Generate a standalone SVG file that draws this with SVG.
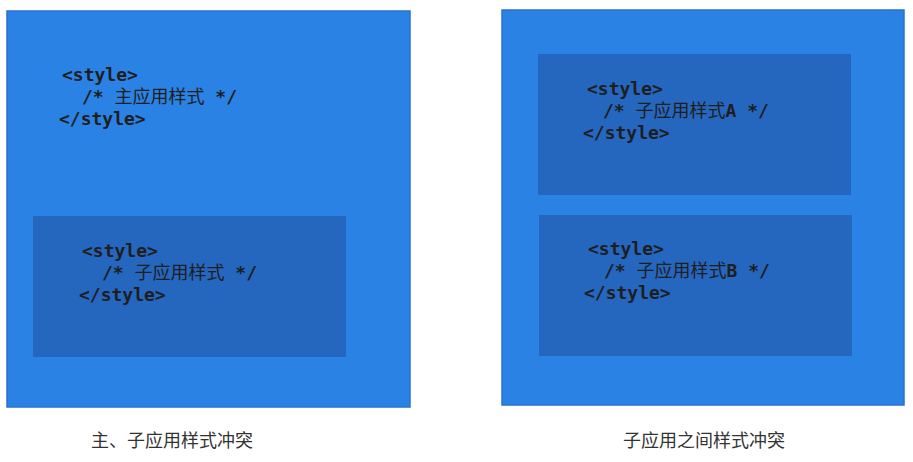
<svg xmlns="http://www.w3.org/2000/svg" width="913" height="462" viewBox="0 0 913 462">
  <style>
    .outer { fill: #2a82e4; stroke: #2872cf; stroke-width: 1.5; }
    .inner { fill: #2566bf; stroke: none; }
    .code { font-family: "DejaVu Sans Mono", "Noto Sans CJK SC", monospace; font-size: 18px; font-weight: bold; fill: #1e1e1e; }
    .cjk { font-family: "Noto Sans CJK SC", sans-serif; font-weight: normal; }
    .caption { font-family: "Noto Sans CJK SC", "Noto Sans", sans-serif; font-size: 18px; fill: #333333; text-anchor: middle; }
  </style>
  <rect width="913" height="462" fill="#ffffff"/>

  <g id="main-app">
    <rect class="outer" x="7" y="11" width="403" height="396"/>
    <text class="code" x="62" y="81">&lt;style&gt;</text>
    <text class="code" x="82" y="103">/* <tspan class="cjk">主应用样式</tspan> */</text>
    <text class="code" x="59" y="125">&lt;/style&gt;</text>
  </g>

  <g id="sub-app-in-main">
    <rect class="inner" x="33" y="216" width="313" height="141"/>
    <text class="code" x="82" y="257">&lt;style&gt;</text>
    <text class="code" x="102" y="279">/* <tspan class="cjk">子应用样式</tspan> */</text>
    <text class="code" x="79" y="301">&lt;/style&gt;</text>
  </g>

  <g id="caption-left">
    <text class="caption" x="172" y="447">主、子应用样式冲突</text>
  </g>

  <g id="container-right">
    <rect class="outer" x="502" y="10" width="402" height="395"/>
  </g>

  <g id="sub-app-a">
    <rect class="inner" x="538" y="54" width="313" height="141"/>
    <text class="code" x="587" y="95">&lt;style&gt;</text>
    <text class="code" x="603" y="117">/* <tspan class="cjk">子应用样式</tspan>A */</text>
    <text class="code" x="583" y="139">&lt;/style&gt;</text>
  </g>

  <g id="sub-app-b">
    <rect class="inner" x="539" y="215" width="313" height="141"/>
    <text class="code" x="588" y="255">&lt;style&gt;</text>
    <text class="code" x="604" y="277">/* <tspan class="cjk">子应用样式</tspan>B */</text>
    <text class="code" x="584" y="299">&lt;/style&gt;</text>
  </g>

  <g id="caption-right">
    <text class="caption" x="704" y="447">子应用之间样式冲突</text>
  </g>
</svg>
